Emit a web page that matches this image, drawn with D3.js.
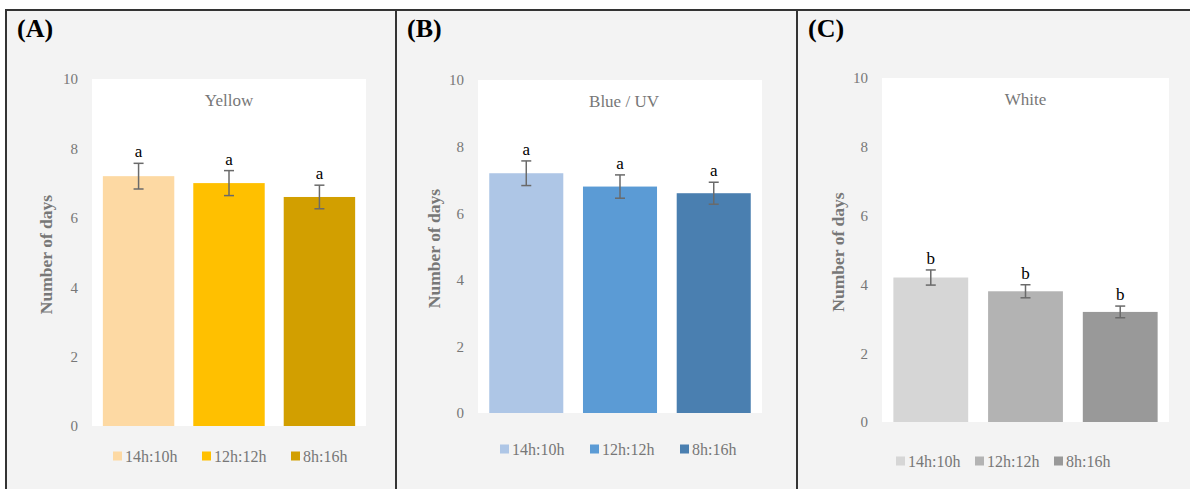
<!DOCTYPE html>
<html>
<head>
<meta charset="utf-8">
<script src="https://cdn.jsdelivr.net/npm/d3@7"></script>
<style>
  body { margin: 0; background: #fff; }
  svg text { font-family: "Liberation Serif", "Times New Roman", serif; }
</style>
</head>
<body>
<svg id="chart" width="1190" height="489"></svg>
<script>
// data
const photoperiods = ["14h:10h", "12h:12h", "8h:16h"];
const yTicks = [0, 2, 4, 6, 8, 10];

const yellowDays = [7.2, 7.0, 6.6];
const yellowErr = [0.37, 0.36, 0.34];
const yellowLetters = ["a", "a", "a"];

const blueDays = [7.2, 6.8, 6.6];
const blueErr = [0.37, 0.35, 0.33];
const blueLetters = ["a", "a", "a"];

const whiteDays = [4.2, 3.8, 3.2];
const whiteErr = [0.22, 0.19, 0.17];
const whiteLetters = ["b", "b", "b"];

// layout of the three panels
const panels = [
    {tag: "(A)", title: "Yellow", values: yellowDays, errors: yellowErr, letters: yellowLetters,
     colors: ["#fdd9a3", "#ffc000", "#d29f00"],
     x0: 6, x1: 396, plot: {left: 92, right: 366, top: 79, bottom: 426},
     labelX: 52, legendX: 113, legendStep: 89, legendY: 456},
    {tag: "(B)", title: "Blue / UV", values: blueDays, errors: blueErr, letters: blueLetters,
     colors: ["#aec6e6", "#5b9bd5", "#4a7fb0"],
     x0: 396, x1: 797, plot: {left: 478, right: 762, top: 80, bottom: 413},
     labelX: 440, legendX: 500, legendStep: 90, legendY: 449},
    {tag: "(C)", title: "White", values: whiteDays, errors: whiteErr, letters: whiteLetters,
     colors: ["#d6d6d6", "#b3b3b3", "#999999"],
     x0: 797, x1: 1194, plot: {left: 882, right: 1169, top: 78, bottom: 422},
     labelX: 844, legendX: 896, legendStep: 79, legendY: 461}
];

const svg = d3.select("#chart");
const grey = "#777";
const serif = "Liberation Serif";

panels.forEach(p => {
    const g = svg.append("g");

    //panel background + frame
    g.append("rect")
        .attr("x", p.x0).attr("y", 10)
        .attr("width", p.x1 - p.x0).attr("height", 490)
        .attr("fill", "#f3f3f3")
        .attr("stroke", "#333")
        .attr("stroke-width", 2);

    g.append("text")
        .attr("x", p.x0 + 11).attr("y", 37)
        .attr("font-family", serif)
        .attr("font-size", 26).attr("font-weight", "bold")
        .attr("fill", "#000")
        .text(p.tag);

    const xScale = d3.scaleBand()
        .domain(photoperiods)
        .range([p.plot.left, p.plot.right])
        .paddingInner(0.21)
        .paddingOuter(0.12);

    const yScale = d3.scaleLinear()
        .domain([0, 10])
        .range([p.plot.bottom, p.plot.top]);

    //white plot area
    g.append("rect")
        .attr("x", p.plot.left).attr("y", p.plot.top)
        .attr("width", p.plot.right - p.plot.left)
        .attr("height", p.plot.bottom - p.plot.top)
        .attr("fill", "#fff");

    //y-axis
    const axis = g.append("g")
        .attr("transform", `translate(${p.plot.left},0)`)
        .call(d3.axisLeft(yScale).tickValues(yTicks).tickSize(0).tickPadding(14));
    axis.attr("font-family", serif).attr("font-size", 15);
    axis.select(".domain").remove();
    axis.selectAll("text").attr("fill", grey);

    g.append("text")
        .attr("transform", `translate(${p.labelX},${(p.plot.top + p.plot.bottom) / 2 + 2}) rotate(-90)`)
        .attr("text-anchor", "middle")
        .attr("font-family", serif)
        .attr("font-size", 17.5).attr("font-weight", "bold")
        .attr("fill", grey)
        .text("Number of days");

    //title
    g.append("text")
        .attr("x", (p.plot.left + p.plot.right) / 2 + (p.tag === "(B)" ? 4 : 0))
        .attr("y", p.plot.top + 27)
        .attr("text-anchor", "middle")
        .attr("font-family", serif)
        .attr("font-size", 17)
        .attr("fill", grey)
        .text(p.title);

    const rows = photoperiods.map((k, i) => ({k, v: p.values[i], e: p.errors[i], l: p.letters[i], c: p.colors[i]}));

    //bars
    g.selectAll(".bar").data(rows).join("rect")
        .attr("class", "bar")
        .attr("x", d => xScale(d.k))
        .attr("y", d => yScale(d.v))
        .attr("width", xScale.bandwidth())
        .attr("height", d => yScale(0) - yScale(d.v))
        .attr("fill", d => d.c);

    //error bars
    const eb = g.selectAll(".err").data(rows).join("g").attr("class", "err")
        .attr("stroke", "#6a6a6a").attr("stroke-width", 1.5);
    const cx = d => xScale(d.k) + xScale.bandwidth() / 2;
    eb.append("line")
        .attr("x1", cx).attr("x2", cx)
        .attr("y1", d => yScale(d.v + d.e)).attr("y2", d => yScale(d.v - d.e));
    eb.append("line")
        .attr("x1", d => cx(d) - 5).attr("x2", d => cx(d) + 5)
        .attr("y1", d => yScale(d.v + d.e)).attr("y2", d => yScale(d.v + d.e));
    eb.append("line")
        .attr("x1", d => cx(d) - 5).attr("x2", d => cx(d) + 5)
        .attr("y1", d => yScale(d.v - d.e)).attr("y2", d => yScale(d.v - d.e));

    //significance letters
    g.selectAll(".letter").data(rows).join("text")
        .attr("class", "letter")
        .attr("x", cx)
        .attr("y", d => yScale(d.v + d.e) - 6)
        .attr("text-anchor", "middle")
        .attr("font-family", serif)
        .attr("font-size", 17)
        .attr("fill", "#000")
        .text(d => d.l);

    //legend
    const lg = g.selectAll(".leg").data(rows).join("g").attr("class", "leg")
        .attr("transform", (d, i) => `translate(${p.legendX + i * p.legendStep},${p.legendY})`);
    lg.append("rect")
        .attr("x", 0).attr("y", -4.5)
        .attr("width", 9).attr("height", 9)
        .attr("fill", d => d.c);
    lg.append("text")
        .attr("x", 12).attr("y", 5.5)
        .attr("font-family", serif)
        .attr("font-size", 16)
        .attr("fill", grey)
        .text(d => d.k);
});
</script>
</body>
</html>
